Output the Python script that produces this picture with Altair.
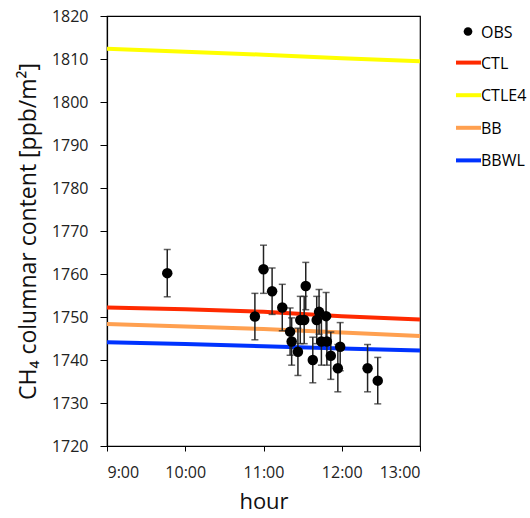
import altair as alt
import pandas as pd

# Observations
obs_hour = [9.77, 10.89, 11.00, 11.11, 11.24, 11.34, 11.36, 11.44, 11.47, 11.52, 11.54,
            11.63, 11.68, 11.71, 11.74, 11.80, 11.81, 11.86, 11.95, 11.98, 12.33, 12.46]
obs_val = [1760.2, 1750.1, 1761.1, 1756.0, 1752.2, 1746.6, 1744.3, 1741.9, 1749.3, 1749.3, 1757.2,
           1740.0, 1749.3, 1751.2, 1744.3, 1750.2, 1744.3, 1741.0, 1738.1, 1743.1, 1738.1, 1735.2]
obs_err = [5.5, 5.4, 5.6, 5.4, 5.4, 5.5, 5.5, 5.5, 5.5, 5.5, 5.5,
           5.3, 5.5, 5.2, 5.5, 5.5, 5.5, 5.5, 5.5, 5.6, 5.5, 5.4]

# Model series
model_hours = [9, 10, 11, 12, 13]
ctl = [1752.2, 1751.8, 1751.2, 1750.2, 1749.4]
ctle4 = [1812.4, 1811.7, 1811.0, 1810.2, 1809.5]
bb = [1748.4, 1747.8, 1747.2, 1746.4, 1745.6]
bbwl = [1744.1, 1743.7, 1743.2, 1742.7, 1742.2]

series_names = ["OBS", "CTL", "CTLE4", "BB", "BBWL"]
series_colors = ["#000000", "#ff2a00", "#ffff00", "#ffa050", "#0033ff"]

FONT = "Open Sans"

obs_df = pd.DataFrame({"hour": obs_hour, "val": obs_val,
                       "lo": [v - e for v, e in zip(obs_val, obs_err)],
                       "hi": [v + e for v, e in zip(obs_val, obs_err)],
                       "series": "OBS"})
rows = []
for name, vals in [("CTL", ctl), ("CTLE4", ctle4), ("BB", bb), ("BBWL", bbwl)]:
    for h, v in zip(model_hours, vals):
        rows.append({"hour": h, "val": v, "series": name})
model_df = pd.DataFrame(rows)

xscale = alt.Scale(domain=[9, 13], nice=False, zero=False)
yscale = alt.Scale(domain=[1720, 1820], nice=False, zero=False)

xaxis = alt.Axis(values=[9, 10, 11, 12, 13], labelExpr="datum.value + ':00'",
                 title="hour", grid=False, tickSize=5, labelPadding=13,
                 titlePadding=11)
yaxis = alt.Axis(values=list(range(1720, 1821, 10)), format="d",
                 title="CH₄ columnar content [ppb/m²]",
                 grid=False, tickSize=7, labelPadding=12, titlePadding=11,
                 titleFontSize=23)

color_scale = alt.Scale(domain=series_names, range=series_colors)

lines = alt.Chart(model_df).mark_line(strokeWidth=4).encode(
    x=alt.X("hour:Q", scale=xscale, axis=xaxis),
    y=alt.Y("val:Q", scale=yscale, axis=yaxis),
    color=alt.Color("series:N", scale=color_scale, legend=None),
    detail="series:N",
)

errbars = alt.Chart(obs_df).mark_rule(color="#222222", strokeWidth=1.5).encode(
    x="hour:Q", y="lo:Q", y2="hi:Q")
caps_lo = alt.Chart(obs_df).mark_tick(color="#222222", size=7, thickness=1.5, orient="horizontal").encode(
    x="hour:Q", y="lo:Q")
caps_hi = alt.Chart(obs_df).mark_tick(color="#222222", size=7, thickness=1.5, orient="horizontal").encode(
    x="hour:Q", y="hi:Q")
points = alt.Chart(obs_df).mark_circle(size=110, opacity=1, color="black").encode(
    x="hour:Q", y="val:Q")

# Legend built from series names
leg_df = pd.DataFrame({"series": series_names, "idx": list(range(len(series_names)))})
leg_base = alt.Chart(leg_df)
leg_y_px = alt.Y("ypx:Q", scale=None, axis=None)
leg_line = leg_base.transform_filter("datum.idx > 0").transform_calculate(
    ypx="14 + datum.idx * 32.6"
).mark_rule(strokeWidth=4).encode(
    x=alt.value(349), x2=alt.value(374), y=leg_y_px,
    color=alt.Color("series:N", scale=color_scale, legend=None))
leg_dot = leg_base.transform_filter("datum.idx == 0").transform_calculate(
    ypx="15.5"
).mark_circle(size=75, opacity=1, color="black").encode(x=alt.value(361), y=leg_y_px)
leg_text = leg_base.transform_calculate(
    ypx="datum.idx == 0 ? 16.5 : 15 + datum.idx * 32.6"
).mark_text(align="left", baseline="middle", font=FONT, fontSize=16, color="black").encode(
    x=alt.value(374), y=leg_y_px, text="series:N")

chart = alt.layer(lines, errbars, caps_lo, caps_hi, points, leg_line, leg_dot, leg_text).properties(
    width=313, height=430,
    background="white",
    autosize=alt.AutoSizeParams(type="none"),
    padding={"left": 107, "top": 16, "right": 110, "bottom": 72},
).configure_view(stroke="black", strokeWidth=1.2).configure_axis(
    domainColor="black", tickColor="black", labelColor="#222222", titleColor="#111111",
    labelFont=FONT, titleFont=FONT, labelFontSize=16, titleFontSize=22,
    titleFontWeight="normal", domainWidth=1.2,
)

chart.save("out.html", embed_options={"renderer": "svg", "actions": False})
